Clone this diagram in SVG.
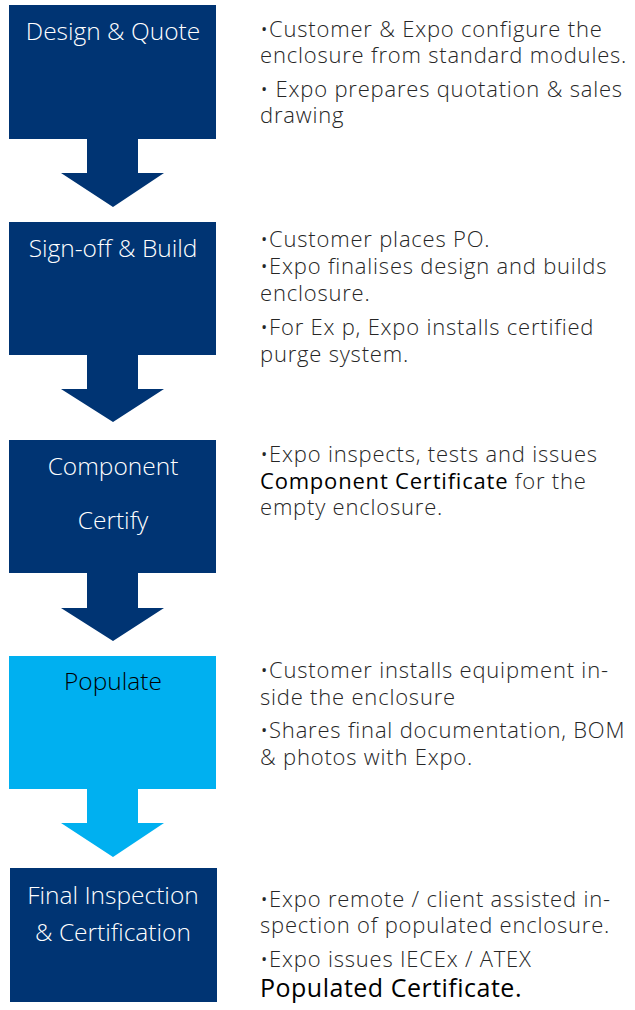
<svg xmlns="http://www.w3.org/2000/svg" width="635" height="1010" viewBox="0 0 635 1010">
<style>
.dk{fill:#003473}
.lt{fill:#00B0F0}
.t{font-family:"Open Sans",Roboto,"Liberation Sans",sans-serif;font-size:24.5px;text-anchor:middle;font-weight:300}
.w{fill:#ffffff}
.b{fill:#000000}
.d{font-family:"Open Sans",Roboto,"Liberation Sans",sans-serif;font-size:22px;font-weight:300;letter-spacing:0.8px;fill:#262626}
.h{fill:#000000;font-weight:400}
</style>
<g id="connectors">
<path class="dk" d="M87,139 H138 V173 H164 L113,207 L61,173 H87 Z"/>
<path class="dk" d="M87,355 H138 V389 H164 L113,422 L61,389 H87 Z"/>
<path class="dk" d="M87,573 H138 V608 H164 L113,641 L61,608 H87 Z"/>
<path class="lt" d="M87,789 H138 V823 H164 L113,857 L61,823 H87 Z"/>
</g>
<g id="node-design">
<rect class="dk" x="9" y="5" width="207" height="134"/>
<text class="t w" x="113" y="40">Design &amp; Quote</text>
</g>
<g id="node-signoff">
<rect class="dk" x="9" y="222" width="207" height="133"/>
<text class="t w" x="113" y="257">Sign-off &amp; Build</text>
</g>
<g id="node-component">
<rect class="dk" x="9" y="440" width="207" height="133"/>
<text class="t w" x="113" y="475">Component</text>
<text class="t w" x="113" y="529">Certify</text>
</g>
<g id="node-populate">
<rect class="lt" x="9" y="656" width="207" height="133"/>
<text class="t b" x="113" y="690">Populate</text>
</g>
<g id="node-final">
<rect class="dk" x="10" y="868" width="207" height="134"/>
<text class="t w" x="113" y="904">Final Inspection</text>
<text class="t w" x="113" y="941">&amp; Certification</text>
</g>
<g id="desc-design">
<text class="d" x="260" y="37">•Customer &amp; Expo configure the</text>
<text class="d" x="260" y="63">enclosure from standard modules.</text>
<text class="d" x="260" y="97">• Expo prepares quotation &amp; sales</text>
<text class="d" x="260" y="123">drawing</text>
</g>
<g id="desc-signoff">
<text class="d" x="260" y="247">•Customer places PO.</text>
<text class="d" x="260" y="274">•Expo finalises design and builds</text>
<text class="d" x="260" y="301">enclosure.</text>
<text class="d" x="260" y="335">•For Ex p, Expo installs certified</text>
<text class="d" x="260" y="362">purge system.</text>
</g>
<g id="desc-component">
<text class="d" x="260" y="462">•Expo inspects, tests and issues</text>
<text class="d" x="260" y="489"><tspan class="h">Component Certificate</tspan> for the</text>
<text class="d" x="260" y="515">empty enclosure.</text>
</g>
<g id="desc-populate">
<text class="d" x="260" y="678">•Customer installs equipment in-</text>
<text class="d" x="260" y="705">side the enclosure</text>
<text class="d" x="260" y="738">•Shares final documentation, BOM</text>
<text class="d" x="260" y="765">&amp; photos with Expo.</text>
</g>
<g id="desc-final">
<text class="d" x="260" y="907">•Expo remote / client assisted in-</text>
<text class="d" x="260" y="933">spection of populated enclosure.</text>
<text class="d" x="260" y="967">•Expo issues IECEx / ATEX</text>
<text class="d h" x="260" y="997" style="font-size:25px;letter-spacing:0.5px">Populated Certificate.</text>
</g>
</svg>
